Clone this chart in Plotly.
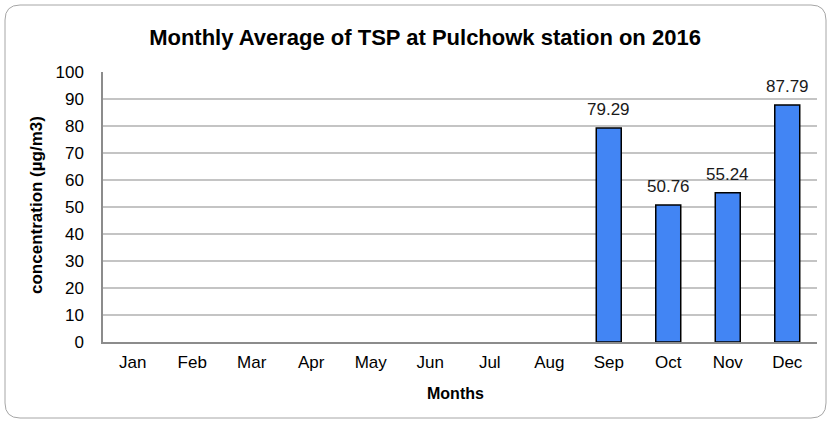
import plotly.graph_objects as go

months = ['Jan', 'Feb', 'Mar', 'Apr', 'May', 'Jun',
          'Jul', 'Aug', 'Sep', 'Oct', 'Nov', 'Dec']
tsp = [None, None, None, None, None, None,
       None, None, 79.29, 50.76, 55.24, 87.79]
y_ticks = [0, 10, 20, 30, 40, 50, 60, 70, 80, 90, 100]

W, H = 830, 422
ML, MR, MT, MB = 103, 13, 72, 80
PW, PH = W - ML - MR, H - MT - MB
FONT = 'Liberation Sans, Arial, sans-serif'


def px_x(p):
    return (p - ML) / PW


def px_y(p):
    return (H - MB - p) / PH


fig = go.Figure()
fig.add_trace(go.Bar(
    x=months,
    y=tsp,
    marker=dict(color='#4285f4', line=dict(color='#000000', width=1.5)),
    width=0.42,
    hoverinfo='skip',
))

# value labels above the bars
for m, v in zip(months, tsp):
    if v is None:
        continue
    fig.add_annotation(x=m, y=v, text=f'{v:.2f}', showarrow=False,
                       yanchor='bottom', yshift=7,
                       font=dict(family=FONT, size=17, color='#1a1a1a'))

# axis titles
fig.add_annotation(x=px_x(455), y=px_y(393), xref='paper', yref='paper',
                   xanchor='center', yanchor='middle',
                   text='<b>Months</b>', showarrow=False,
                   font=dict(family=FONT, size=16, color='#000000'))
fig.add_annotation(x=px_x(36), y=px_y(205), xref='paper', yref='paper',
                   xanchor='center', yanchor='middle',
                   text='<b>concentration (µg/m3)</b>', showarrow=False, textangle=-90,
                   font=dict(family=FONT, size=17, color='#000000'))

# rounded chart border
x0, x1 = px_x(5), px_x(826)
y0, y1 = px_y(418), px_y(5)
rx, ry = 15 / PW, 15 / PH
path = (f'M {x0 + rx},{y1} L {x1 - rx},{y1} Q {x1},{y1} {x1},{y1 - ry} '
        f'L {x1},{y0 + ry} Q {x1},{y0} {x1 - rx},{y0} '
        f'L {x0 + rx},{y0} Q {x0},{y0} {x0},{y0 + ry} '
        f'L {x0},{y1 - ry} Q {x0},{y1} {x0 + rx},{y1} Z')
fig.add_shape(type='path', path=path, xref='paper', yref='paper',
              line=dict(color='#a6a6a6', width=1), layer='below')

fig.update_layout(
    width=W, height=H,
    margin=dict(l=ML, r=MR, t=MT, b=MB),
    paper_bgcolor='white', plot_bgcolor='white',
    font=dict(family=FONT, size=17, color='#000000'),
    title=dict(text='<b>Monthly Average of TSP at Pulchowk station on 2016</b>',
               x=px_x(425), xref='paper', xanchor='center', y=1 - 37 / H, yanchor='middle',
               font=dict(size=22)),
    showlegend=False,
)
fig.update_xaxes(
    showline=True, linecolor='#8c8c8c', linewidth=1.5,
    showgrid=False, ticks='', ticklabelstandoff=4,
)
fig.update_yaxes(
    range=[0, 100], tickvals=y_ticks,
    showline=True, linecolor='#8c8c8c', linewidth=1.5,
    showgrid=True, gridcolor='#c4c4c4', gridwidth=1.5,
    zeroline=False, ticks='', ticklabelstandoff=14,
)

fig.write_html('out.html', config={'displayModeBar': False},
               post_script="document.body.style.margin='0';")
